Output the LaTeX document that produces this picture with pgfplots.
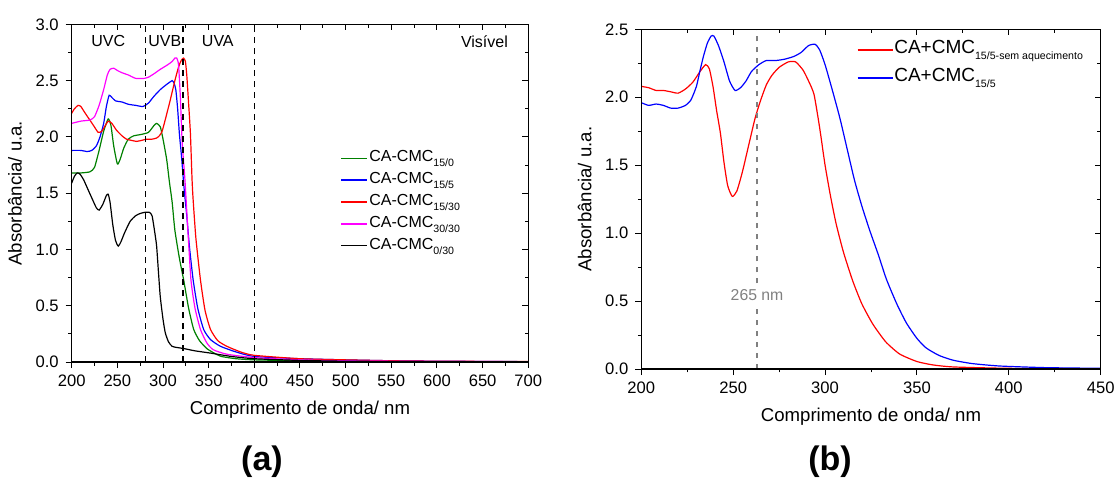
\documentclass[border=0pt]{standalone}
\usepackage{fontspec}
\setmainfont{Liberation Sans}
\usepackage{pgfplots}
\pgfplotsset{compat=1.18}

\definecolor{ogreen}{RGB}{0,128,0}
\definecolor{omag}{RGB}{255,0,255}
\newcommand{\sub}[1]{\raisebox{-0.6ex}{\fontsize{5.3}{6}\selectfont #1}}

\pgfplotsset{
  base/.style={
    scale only axis, anchor=south west,
    axis line style={line width=0.7pt},
    tick style={black, line width=0.5pt},
    major tick length=3pt, minor tick length=1.7pt,
    tick label style={font=\fontsize{8.3}{10}\selectfont},
    label style={font=\fontsize{9.3}{11}\selectfont},
    /pgf/number format/assume math mode=true,
    yticklabel style={/pgf/number format/.cd, fixed, fixed zerofill, precision=1},
    minor x tick num=1, minor y tick num=1,
  },
  lower/.style={base, xtick pos=bottom, ytick pos=left, tick align=outside},
  upper/.style={base, xtick pos=top, ytick pos=right, tick align=inside,
    xticklabels={}, yticklabels={}},
  ser/.style={line width=0.6pt, smooth, tension=0.35},
}

\begin{document}
\begin{tikzpicture}
\useasboundingbox (0,0) rectangle (558.5pt,243.5pt);

% ---------- (a) ----------
\begin{axis}[lower, at={(35.85pt,62.45pt)}, width=228.3pt, height=168.9pt,
  xmin=200, xmax=700, ymin=0, ymax=3,
  xtick={200,250,300,350,400,450,500,550,600,650,700},
  ytick={0,0.5,1,1.5,2,2.5,3},
  xlabel={Comprimento de onda/ nm}, ylabel={Absorbância/ u.a.},
  legend style={draw=none, fill=none, at={(0.575,0.645)}, anchor=north west,
    font=\fontsize{8}{9}\selectfont, row sep=1.2pt,
    nodes={text height=6pt, text depth=2.5pt, inner sep=0.6pt}},
  legend cell align=left,
  legend image code/.code={\draw[#1,line width=0.8pt] (0pt,0pt) -- (13pt,0pt);},
]
\addplot[ser, ogreen] coordinates {
(200,1.68) (210,1.68) (220,1.69) (225,1.73) (230,1.88) (235,2.05) (240,2.16)
(243,2.10) (246,1.92) (250,1.76) (253,1.80) (257,1.90) (262,1.98) (268,2.01)
(275,2.02) (284,2.04) (290,2.10) (293,2.12) (297,2.09) (300,1.98) (304,1.80)
(307,1.60) (310,1.42) (313,1.17) (318,0.92) (322.6,0.73) (328,0.48) (333.6,0.29)
(340,0.19) (348,0.12) (356,0.08) (364,0.05) (380,0.03) (400,0.02) (450,0.012)
(500,0.008) (600,0.004) (700,0.003)};
\addlegendentry{CA-CMC\sub{15/0}}
\addplot[ser, blue] coordinates {
(200,1.88) (210,1.88) (217,1.87) (222,1.88) (227,1.92) (231,2.00) (235,2.12)
(238,2.27) (241,2.37) (244,2.35) (248,2.32) (255,2.31) (262,2.29) (270,2.28)
(278,2.27) (284,2.30) (290,2.36) (297,2.42) (303,2.46) (308,2.49) (310,2.50)
(312,2.48) (314,2.42) (316,2.25) (318,2.02) (320,1.85) (323,1.55) (326,1.30)
(329,1.02) (333,0.73) (338,0.48) (344.5,0.29) (352,0.20) (363,0.14) (380,0.09)
(400,0.05) (450,0.03) (500,0.02) (550,0.012) (600,0.008) (700,0.004)};
\addlegendentry{CA-CMC\sub{15/5}}
\addplot[ser, red] coordinates {
(200,2.21) (203,2.25) (207,2.28) (210,2.27) (214,2.22) (219,2.16) (224,2.10)
(229,2.04) (233,2.05) (236,2.09) (240,2.14) (244,2.12) (249,2.06) (255,2.01)
(260,1.98) (265,1.97) (271,1.96) (277,1.97) (282,1.98) (288,1.98) (293,1.99)
(296,2.01) (299,2.05) (303,2.17) (308,2.33) (313,2.50) (317,2.62) (320,2.68)
(322.5,2.70) (324.5,2.67) (326,2.55) (328,2.30) (330,2.03) (331.8,1.62)
(333,1.44) (336,1.10) (341,0.73) (346,0.46) (352,0.29) (360,0.19) (370,0.14)
(385,0.09) (400,0.06) (450,0.03) (500,0.02) (550,0.012) (600,0.008) (700,0.005)};
\addlegendentry{CA-CMC\sub{15/30}}
\addplot[ser, omag] coordinates {
(200,2.12) (210,2.14) (220,2.15) (225,2.18) (230,2.28) (235,2.42) (239,2.55)
(242,2.60) (246,2.61) (250,2.59) (255,2.57) (262,2.55) (270,2.52) (280,2.52)
(284,2.53) (290,2.56) (297,2.60) (305,2.64) (310,2.67) (313,2.70) (315,2.70)
(317,2.64) (319,2.35) (321,1.95) (324,1.62) (327,1.20) (330.6,0.73) (335,0.48)
(341,0.29) (348,0.17) (355,0.11) (370,0.07) (400,0.04) (450,0.02) (500,0.012)
(600,0.006) (700,0.004)};
\addlegendentry{CA-CMC\sub{30/30}}
\addplot[ser, black] coordinates {
(200,1.59) (203,1.65) (206,1.68) (209,1.67) (213,1.62) (218,1.53) (223,1.44)
(227,1.37) (230,1.35) (234,1.40) (238,1.48) (240,1.49) (242,1.42) (245,1.22)
(248,1.08) (251,1.03) (254,1.07) (258,1.15) (264,1.25) (270,1.30) (275,1.32)
(280,1.33) (285,1.33) (288,1.30) (291,1.15) (293,1.03) (295,0.80) (297,0.58)
(300,0.38) (302.5,0.26) (306,0.18) (310,0.14) (315,0.13) (323,0.12) (335,0.10)
(352,0.08) (375,0.05) (400,0.03) (450,0.015) (500,0.008) (600,0.004) (700,0.003)};
\addlegendentry{CA-CMC\sub{0/30}}
\addplot[black, line width=0.65pt, dash pattern=on 3pt off 2.5pt, forget plot] coordinates {(281,0) (281,3)};
\addplot[black, line width=0.65pt, dash pattern=on 3pt off 2.5pt, forget plot] coordinates {(322,0) (322,3)};
\addplot[black, line width=0.65pt, dash pattern=on 3pt off 2.5pt, forget plot] coordinates {(400,0) (400,3)};
\node[font=\fontsize{8}{9}\selectfont] at (axis cs:240,2.85) {UVC};
\node[font=\fontsize{8}{9}\selectfont] at (axis cs:302,2.85) {UVB};
\node[font=\fontsize{8}{9}\selectfont] at (axis cs:360,2.85) {UVA};
\node[font=\fontsize{8}{9}\selectfont] at (axis cs:652,2.85) {Visível};
\end{axis}
\begin{axis}[upper, at={(35.85pt,62.45pt)}, width=228.3pt, height=168.9pt,
  xmin=200, xmax=700, ymin=0, ymax=3,
  xtick={200,250,300,350,400,450,500,550,600,650,700},
  ytick={0,0.5,1,1.5,2,2.5,3}]
\end{axis}

% ---------- (b) ----------
\begin{axis}[lower, at={(320.65pt,59pt)}, width=229.7pt, height=169.85pt,
  xmin=200, xmax=450, ymin=0, ymax=2.5,
  xtick={200,250,300,350,400,450},
  ytick={0,0.5,1,1.5,2,2.5},
  xlabel={Comprimento de onda/ nm}, ylabel={Absorbância/ u.a.},
  legend style={draw=none, fill=none, at={(0.455,0.985)}, anchor=north west,
    font=\fontsize{9.5}{11}\selectfont, row sep=2.5pt,
    nodes={text height=7pt, text depth=3.5pt, inner sep=0.5pt}},
  legend cell align=left,
  legend image code/.code={\draw[#1,line width=0.8pt] (0pt,0pt) -- (17.5pt,0pt);},
]
\addplot[ser, red] coordinates {
(200,2.08) (204,2.07) (208,2.05) (212,2.05) (216,2.04) (220,2.03) (224,2.06)
(228,2.11) (232,2.19) (235,2.24) (237,2.21) (239,2.08) (241,1.90) (243,1.74)
(245,1.52) (247,1.35) (249.5,1.27) (252,1.31) (255,1.45) (259,1.68) (262,1.85)
(265,1.98) (268,2.09) (271,2.16) (275,2.22) (280,2.26) (284,2.26) (288,2.20)
(291,2.12) (294,2.02) (297,1.78) (300,1.50) (303,1.27) (306,1.07) (310,0.86)
(315,0.65) (320,0.48) (326,0.33) (333,0.20) (340.6,0.11) (350,0.055) (358.7,0.03)
(370,0.015) (400,0.005) (450,0.002)};
\addlegendentry{CA+CMC\sub{15/5-sem aquecimento}}
\addplot[ser, blue] coordinates {
(200,1.96) (204,1.94) (208,1.95) (212,1.94) (216,1.92) (220,1.92) (224,1.94)
(227,1.98) (230,2.08) (232,2.20) (234,2.31) (236,2.40) (238,2.45) (239.5,2.45)
(242,2.38) (245,2.26) (248,2.12) (251,2.05) (254,2.07) (257,2.12) (260,2.19)
(264,2.24) (268,2.27) (273,2.27) (278,2.28) (283,2.30) (287,2.33) (291,2.38)
(294.5,2.39) (297,2.35) (300,2.24) (304,2.05) (308,1.85) (312,1.62) (316,1.39)
(320,1.20) (324.3,1.02) (329,0.84) (333.4,0.66) (339,0.48) (344.2,0.34)
(350,0.225) (355,0.155) (362,0.10) (369.6,0.065) (380,0.04) (395,0.022)
(420,0.01) (450,0.005)};
\addlegendentry{CA+CMC\sub{15/5}}
\addplot[gray, line width=0.6pt, dash pattern=on 2.5pt off 3pt, forget plot] coordinates {(263,0) (263,0.47)};
\addplot[gray, line width=0.6pt, dash pattern=on 2.5pt off 3pt, forget plot] coordinates {(263,0.63) (263,2.5)};
\node[text=gray, font=\fontsize{7.9}{9}\selectfont] at (axis cs:263,0.546) {265 nm};
\end{axis}
\begin{axis}[upper, at={(320.65pt,59pt)}, width=229.7pt, height=169.85pt,
  xmin=200, xmax=450, ymin=0, ymax=2.5,
  xtick={200,250,300,350,400,450},
  ytick={0,0.5,1,1.5,2,2.5}]
\end{axis}

\node[font=\fontsize{17}{20}\selectfont\bfseries] at (131pt,12.5pt) {(a)};
\node[font=\fontsize{17}{20}\selectfont\bfseries] at (415pt,12.5pt) {(b)};
\end{tikzpicture}
\end{document}
